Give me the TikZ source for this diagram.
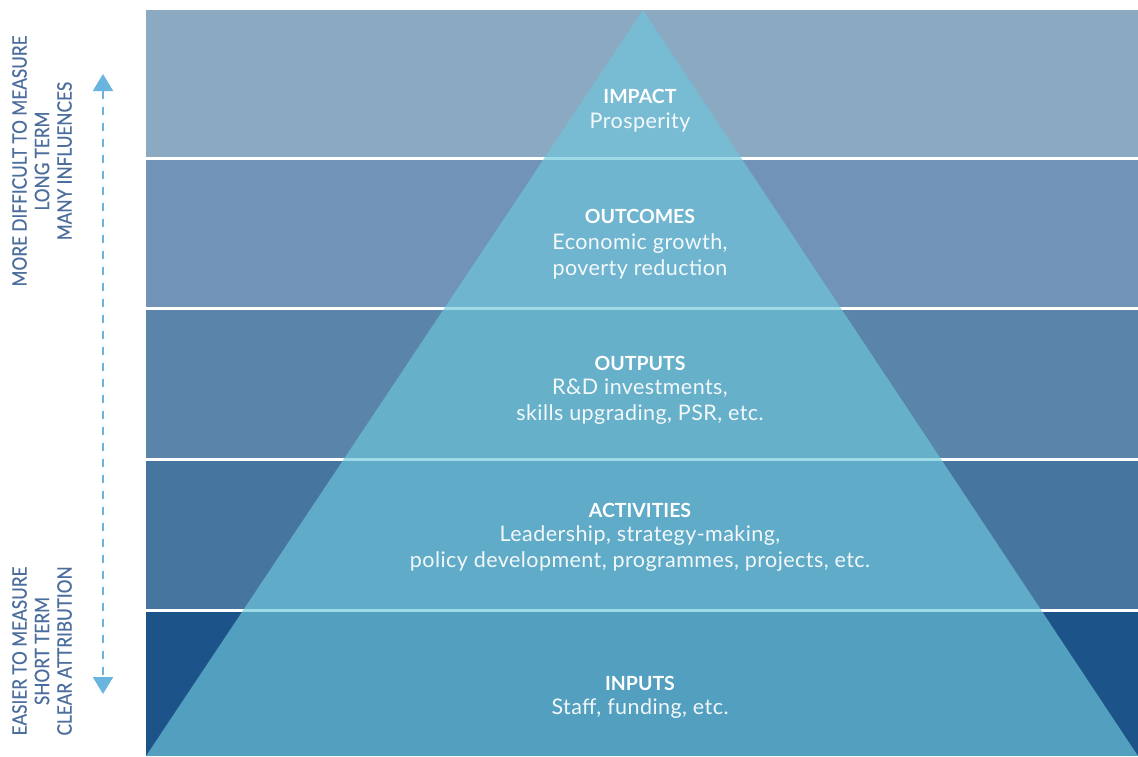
\documentclass[tikz,border=0pt]{standalone}
\usepackage{fontspec}
\setmainfont{Lato}
\newfontfamily\sidefont[FakeStretch=0.86,FakeBold=0.5]{Lato}
\usetikzlibrary{arrows.meta}

\definecolor{bandA}{HTML}{8CA9C2}
\definecolor{bandB}{HTML}{7193B8}
\definecolor{bandC}{HTML}{5A84AA}
\definecolor{bandD}{HTML}{46759F}
\definecolor{bandE}{HTML}{1C5388}
\definecolor{pyr}{HTML}{6EC7DC}
\definecolor{sidetext}{HTML}{4B6E9C}
\definecolor{arrowblue}{HTML}{6AB4E0}

\begin{document}
\begin{tikzpicture}[x=1pt,y=-1pt]
    \tikzstyle{every node}+=[inner sep=0pt]
    \tikzstyle{title}=[text=white, font=\fontsize{19.5}{26}\selectfont\bfseries]
    \tikzstyle{sub}=[text=white, text opacity=0.92, align=center, font=\addfontfeatures{LetterSpace=2}\fontsize{21.5}{26}\selectfont]
    \tikzstyle{side}=[text=sidetext, rotate=90, align=center, font=\sidefont\fontsize{20}{22.5}\selectfont]
    \fill [white] (0,0) rectangle (1138,756);
    \useasboundingbox (0,0) rectangle (1138,756);
    % bands
    \fill [bandA] (146,10) rectangle (1138,157);
    \fill [bandB] (146,160) rectangle (1138,307);
    \fill [bandC] (146,310) rectangle (1138,458);
    \fill [bandD] (146,461) rectangle (1138,609);
    \fill [bandE] (146,612) rectangle (1138,756);
    % pyramid
    \fill [pyr, opacity=0.66] (643,10) -- (1138,756) -- (146,756) -- cycle;
    % labels
    \node [title] (impact) at (640,96) {IMPACT};
    \node [sub] (prosperity) at (640,122) {Prosperity};
    \node [title] (outcomes) at (640,216) {OUTCOMES};
    \node [sub] (growth) at (640,256) {Economic growth,\\poverty reduction};
    \node [title] (outputs) at (640,363) {OUTPUTS};
    \node [sub] (rnd) at (640,402) {R\&D investments,\\skills upgrading, PSR, etc.};
    \node [title] (activities) at (640,510) {ACTIVITIES};
    \node [sub] (leadership) at (640,549) {Leadership, strategy-making,\\policy development, programmes, projects, etc.};
    \node [title] (inputs) at (640,683) {INPUTS};
    \node [sub] (staff) at (640,709) {Staff, funding, etc.};
    % left side
    \node [side] (hard) at (42,161) {MORE DIFFICULT TO MEASURE\\LONG TERM\\MANY INFLUENCES};
    \node [side] (easy) at (42,651) {EASIER TO MEASURE\\SHORT TERM\\CLEAR ATTRIBUTION};
    \coordinate (up) at (103,74);
    \coordinate (down) at (103,694);
    \draw [arrowblue, line width=2pt, dash pattern=on 8pt off 8pt, {Triangle[width=20pt,length=17pt]}-{Triangle[width=20pt,length=17pt]}] (up) -- (down);
\end{tikzpicture}
\end{document}
